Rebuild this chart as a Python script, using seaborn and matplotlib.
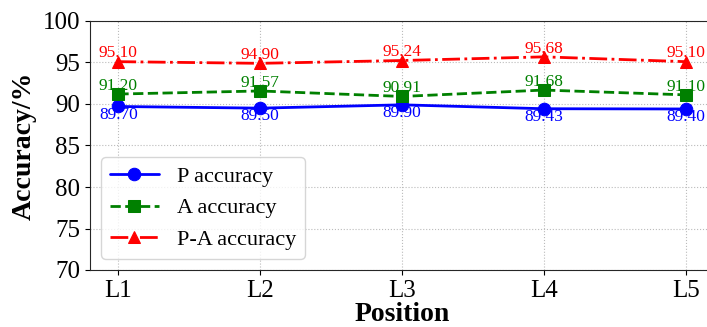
import matplotlib
matplotlib.use('Agg')
import matplotlib.pyplot as plt
import seaborn as sns

# ── DATA ──────────────────────────────────────────────────────────────
positions = ["L1", "L2", "L3", "L4", "L5"]
p_acc = [89.70, 89.50, 89.90, 89.43, 89.40]
a_acc = [91.20, 91.57, 90.91, 91.68, 91.10]
pa_acc = [95.10, 94.90, 95.24, 95.68, 95.10]

sns.set_style("ticks")
plt.rcParams['font.family'] = ['Liberation Serif', 'DejaVu Serif']
plt.rcParams.update({'text.color': 'black', 'axes.labelcolor': 'black',
                     'xtick.color': 'black', 'ytick.color': 'black'})

fig = plt.figure(figsize=(7.07, 3.27), dpi=100)
ax = fig.add_axes([90 / 707, 1 - 270 / 327, (714 - 90) / 707, (270 - 21) / 327])

series = [
    ("P accuracy", p_acc, "blue", "o", "-", -6),
    ("A accuracy", a_acc, "green", "s", "--", 6),
    ("P-A accuracy", pa_acc, "red", "^", "-.", 6),
]

for label, vals, color, marker, ls, off in series:
    sns.lineplot(x=positions, y=vals, ax=ax, color=color, marker=marker,
                 linestyle=ls, linewidth=2, markersize=9,
                 markeredgecolor=color, label=label)
    for i, v in enumerate(vals):
        ax.annotate(f"{v:.2f}", (i, v), xytext=(0, off), textcoords='offset points',
                    ha='center', va='center', color=color, fontsize=12.5)

ax.set_xlim(-0.2, 4.2)
ax.set_ylim(70, 100)
ax.set_yticks(range(70, 101, 5))
ax.grid(True, linestyle=':', color='#bbbbbb', linewidth=0.8)
ax.tick_params(labelsize=18)
ax.set_xlabel("Position", fontsize=20, fontweight='bold', labelpad=0)
ax.set_ylabel("Accuracy/%", fontsize=20, fontweight='bold', labelpad=4)

leg = ax.legend(loc='lower left', fontsize=16, frameon=True,
                bbox_to_anchor=(0.0, 0.0), borderaxespad=0.5,
                handlelength=2.2, labelspacing=0.5)

fig.savefig("out.png", dpi=100)
